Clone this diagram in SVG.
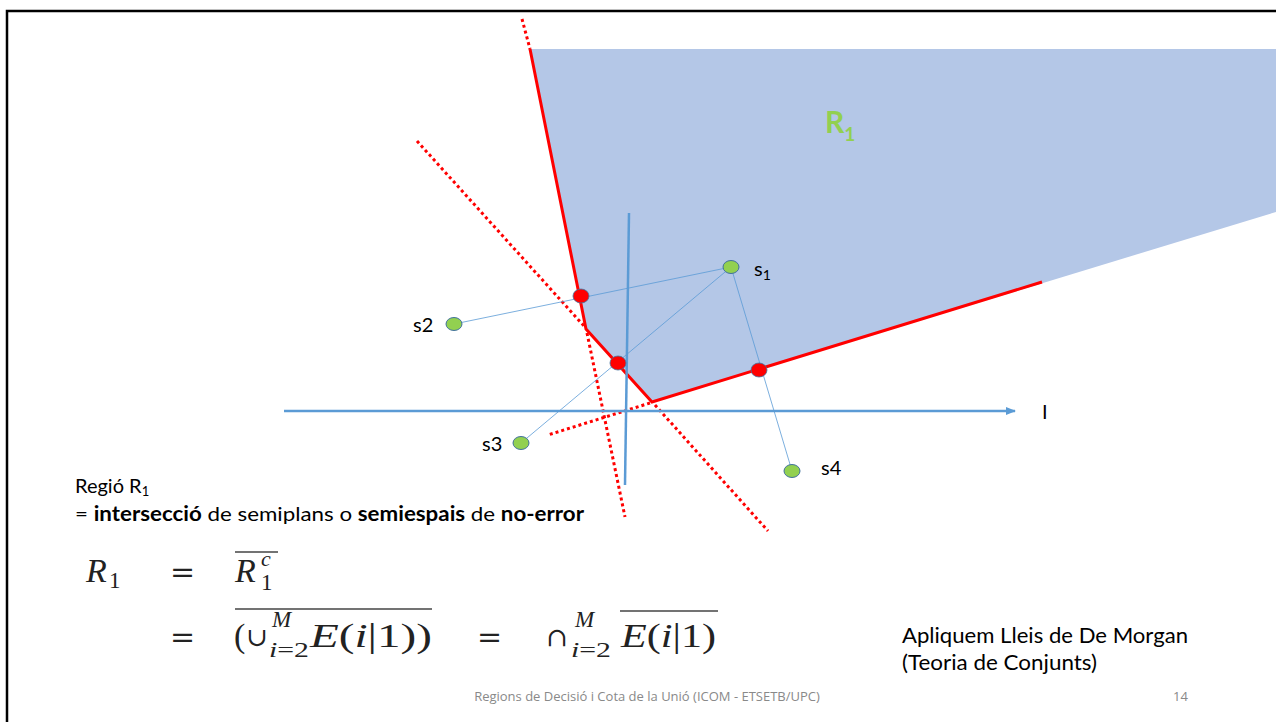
<svg xmlns="http://www.w3.org/2000/svg" width="1276" height="722" viewBox="0 0 1276 722">
<style>
.t{font-family:Lato,"Open Sans","Liberation Sans",sans-serif;fill:#000}
.m{font-family:"Liberation Serif","DejaVu Serif",serif;fill:#222}
.mi{font-style:italic}
.eq{font-family:"DejaVu Serif",serif;fill:#222}
.dot{fill:none;stroke:#FF0000;stroke-width:3;stroke-dasharray:3 3}
.thin{stroke:#5B9BD5;stroke-width:0.8;fill:none}
.pt{fill:#92D050;stroke:#41719C;stroke-width:1}
.rd{fill:#FF0000;stroke:#41719C;stroke-width:0.8}
.ol{stroke:#444;stroke-width:1.5}
.ft{font-family:"Open Sans","Liberation Sans",sans-serif;fill:#898989;font-size:13px}
</style>
<defs>
<marker id="arr" markerWidth="10" markerHeight="8" refX="9" refY="4" orient="auto" markerUnits="userSpaceOnUse">
<path d="M0,0 L10,4 L0,8 Z" fill="#5B9BD5"/>
</marker>
</defs>
<rect width="1276" height="722" fill="#fff"/>
<path d="M7,722 V11 H1276" fill="none" stroke="#000" stroke-width="2.5"/>
<g id="region">
<polygon points="530,49 1276,49 1276,212 652,402 586,329" fill="#B4C7E7"/>
<text x="825" y="133" font-family="Lato,'Open Sans',sans-serif" font-weight="bold" font-size="30" fill="#92D050">R<tspan font-size="19" dy="8">1</tspan></text>
</g>
<g id="connectors">
<line x1="522" y1="19" x2="530" y2="49" class="dot"/>
<line x1="587" y1="333" x2="625" y2="517" class="dot"/>
<line x1="417" y1="141" x2="584" y2="326" class="dot"/>
<line x1="655" y1="405" x2="768" y2="531" class="dot"/>
<line x1="650" y1="403" x2="548" y2="435" class="dot"/>
<polyline points="530,49 586,329 652,402 1042,282" fill="none" stroke="#FF0000" stroke-width="3"/>
<line x1="284" y1="411" x2="1015" y2="411" stroke="#5B9BD5" stroke-width="2.5" marker-end="url(#arr)"/>
<line x1="629" y1="213" x2="625" y2="485" stroke="#5B9BD5" stroke-width="2.5"/>
<line x1="454" y1="324" x2="731" y2="267" class="thin"/>
<line x1="731" y1="267" x2="521" y2="443" class="thin"/>
<line x1="731" y1="267" x2="792" y2="471" class="thin"/>
</g>
<g id="s1"><ellipse cx="731" cy="267" rx="8" ry="6.5" class="pt"/><text x="754" y="276" class="t" font-size="20">s<tspan font-size="14" dy="4">1</tspan></text></g>
<g id="s2"><ellipse cx="454" cy="324" rx="8" ry="6.5" class="pt"/><text x="413" y="332" class="t" font-size="20">s2</text></g>
<g id="s3"><ellipse cx="521" cy="443" rx="8" ry="6.5" class="pt"/><text x="482" y="451" class="t" font-size="20">s3</text></g>
<g id="s4"><ellipse cx="792" cy="471" rx="8" ry="6.5" class="pt"/><text x="821" y="475" class="t" font-size="20">s4</text></g>
<g id="p1"><ellipse cx="581" cy="296" rx="8" ry="7" class="rd"/></g>
<g id="p2"><ellipse cx="618" cy="363" rx="8" ry="7" class="rd"/></g>
<g id="p3"><ellipse cx="759" cy="370" rx="8" ry="7" class="rd"/></g>
<g id="axis-label"><text x="1042" y="419" class="t" font-size="20">I</text></g>
<g id="caption">
<text x="75" y="493" class="t" font-size="20">Regió R<tspan font-size="13" dy="3">1</tspan></text>
<text x="75" y="521" class="t" font-size="20" textLength="509" lengthAdjust="spacingAndGlyphs">= <tspan font-weight="bold">intersecció</tspan> de semiplans o <tspan font-weight="bold">semiespais</tspan> de <tspan font-weight="bold">no-error</tspan></text>
</g>
<g id="equations">
<text x="86" y="582" class="m mi" font-size="34">R</text>
<text x="109" y="588" class="m" font-size="23">1</text>
<text x="170" y="582" class="eq" font-size="30">=</text>
<text x="235" y="582" class="m mi" font-size="34">R</text>
<text x="261" y="566" class="m mi" font-size="22">c</text>
<text x="261" y="590" class="m" font-size="23">1</text>
<line x1="235" y1="552" x2="278" y2="552" class="ol"/>
<text x="170" y="647" class="eq" font-size="30">=</text>
<text x="234" y="647" class="m" font-size="34">(</text>
<text x="246" y="646" class="eq" font-size="26">∪</text>
<text x="272" y="627" class="m mi" font-size="23">M</text>
<text x="269" y="657" class="m" font-size="22" textLength="40" lengthAdjust="spacingAndGlyphs"><tspan class="mi">i</tspan>=2</text>
<text x="310" y="647" class="m" font-size="34" textLength="122" lengthAdjust="spacingAndGlyphs"><tspan class="mi">E</tspan>(<tspan class="mi">i</tspan>|1))</text>
<line x1="235" y1="609" x2="432" y2="609" class="ol"/>
<text x="477" y="647" class="eq" font-size="30">=</text>
<text x="546" y="646" class="eq" font-size="26">∩</text>
<text x="575" y="627" class="m mi" font-size="23">M</text>
<text x="571" y="657" class="m" font-size="22" textLength="40" lengthAdjust="spacingAndGlyphs"><tspan class="mi">i</tspan>=2</text>
<text x="621" y="647" class="m" font-size="34" textLength="95" lengthAdjust="spacingAndGlyphs"><tspan class="mi">E</tspan>(<tspan class="mi">i</tspan>|1)</text>
<line x1="620" y1="611" x2="718" y2="611" class="ol"/>
</g>
<g id="note">
<text x="902" y="643" class="t" font-size="22" textLength="286" lengthAdjust="spacingAndGlyphs">Apliquem Lleis de De Morgan</text>
<text x="902" y="670" class="t" font-size="22" textLength="195" lengthAdjust="spacingAndGlyphs">(Teoria de Conjunts)</text>
</g>
<g id="footer">
<text x="647" y="701" class="ft" text-anchor="middle">Regions de Decisió i Cota de la Unió (ICOM - ETSETB/UPC)</text>
<text x="1173" y="701" class="ft">14</text>
</g>
</svg>
